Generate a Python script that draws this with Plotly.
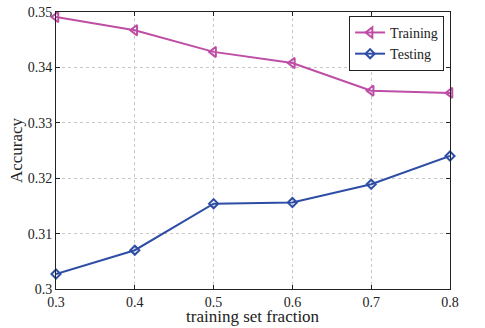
import plotly.graph_objects as go

TRAIN_COLOR = "#BE4DA5"
TEST_COLOR = "#2E4EA6"
FONT = "Liberation Serif"

fractions = [0.3, 0.4, 0.5, 0.6, 0.7, 0.8]
training = [0.3491, 0.3467, 0.3428, 0.3408, 0.3358, 0.3354]
testing = [0.3027, 0.3070, 0.3154, 0.3156, 0.3189, 0.3240]
x_ticks = [0.3, 0.4, 0.5, 0.6, 0.7, 0.8]
y_ticks = [0.30, 0.31, 0.32, 0.33, 0.34, 0.35]


def line_chart():
    fig = go.Figure()
    fig.add_trace(
        go.Scatter(
            x=fractions,
            y=training,
            name="Training",
            mode="lines+markers",
            line=dict(color=TRAIN_COLOR, width=2),
            marker=dict(symbol="triangle-left-open", size=9, line=dict(width=2)),
            cliponaxis=False,
        )
    )
    fig.add_trace(
        go.Scatter(
            x=fractions,
            y=testing,
            name="Testing",
            mode="lines+markers",
            line=dict(color=TEST_COLOR, width=2),
            marker=dict(symbol="diamond-open", size=7, line=dict(width=2)),
            cliponaxis=False,
        )
    )

    axis_style = dict(
        showline=True,
        linecolor="#222222",
        linewidth=1,
        mirror="ticks",
        ticks="inside",
        ticklen=4,
        tickcolor="#222222",
        showgrid=True,
        gridcolor="#C8C8C8",
        griddash="dot",
        gridwidth=1,
        zeroline=False,
        automargin=False,
        tickfont=dict(family=FONT, size=14, color="#222222"),
    )

    fig.update_xaxes(
        range=[0.3, 0.8],
        tickvals=x_ticks,
        ticktext=[str(t) for t in x_ticks],
        **axis_style,
    )
    fig.update_yaxes(
        range=[0.30, 0.35],
        tickvals=y_ticks,
        ticktext=["0.3", "0.31", "0.32", "0.33", "0.34", "0.35"],
        title=dict(text="Accuracy", font=dict(family=FONT, size=17, color="#222222"), standoff=0),
        **axis_style,
    )

    # x title as an annotation so it can sit a bit closer to the tick labels
    fig.add_annotation(
        text="training set fraction",
        xref="paper",
        yref="paper",
        x=0.5,
        y=-0.1,
        xanchor="center",
        yanchor="middle",
        showarrow=False,
        font=dict(family=FONT, size=17, color="#222222"),
    )

    fig.update_layout(
        width=485,
        height=328,
        margin=dict(l=56, r=35, t=12, b=39),
        plot_bgcolor="white",
        paper_bgcolor="white",
        font=dict(family=FONT, color="#222222"),
        legend=dict(
            x=0.985,
            y=0.986,
            xanchor="right",
            yanchor="top",
            bgcolor="white",
            bordercolor="#222222",
            borderwidth=1,
            font=dict(family=FONT, size=14),
            tracegroupgap=0,
            itemwidth=30,
        ),
    )
    return fig


if __name__ == "__main__":
    fig = line_chart()
    # drop the default 8px body margin so the figure fills the window
    fig.write_html(
        "out.html",
        config={"displayModeBar": False},
        post_script="document.body.style.margin='0';",
    )
